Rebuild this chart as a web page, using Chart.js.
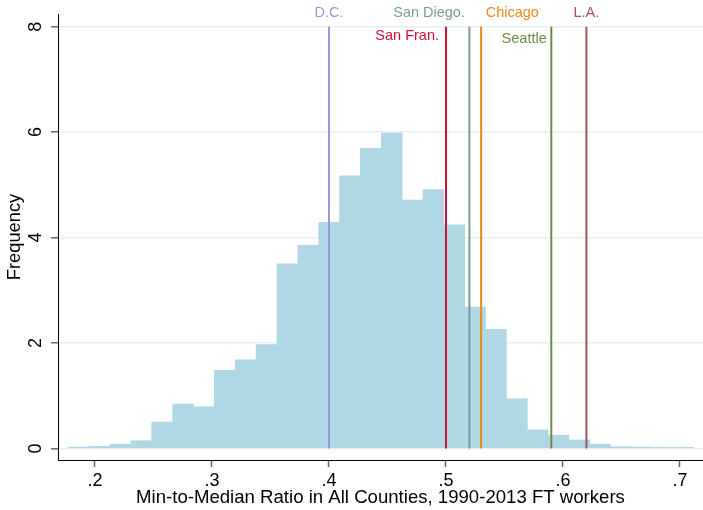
<!DOCTYPE html>
<html>
<head>
<meta charset="utf-8">
<script src="https://cdn.jsdelivr.net/npm/chart.js@4/dist/chart.umd.min.js"></script>
<style>
  html, body { margin: 0; padding: 0; background: #ffffff; }
  #wrap { width: 703px; height: 510px; }
</style>
</head>
<body>
<div id="wrap"><canvas id="hist" width="703" height="510"></canvas></div>
<script>
// Histogram bins: centre of each bin and its density (frequency) value
const binCenters = [
  0.1861, 0.2040, 0.2218, 0.2396, 0.2574, 0.2753, 0.2931, 0.3109, 0.3288, 0.3466,
  0.3644, 0.3823, 0.4001, 0.4179, 0.4357, 0.4536, 0.4714, 0.4892, 0.5071, 0.5249,
  0.5427, 0.5606, 0.5784, 0.5962, 0.6140, 0.6319, 0.6497, 0.6675, 0.6854, 0.7032
];
const frequencies = [
  0.025, 0.04, 0.08, 0.145, 0.50, 0.84, 0.79, 1.48, 1.68, 1.97,
  3.50, 3.85, 4.29, 5.17, 5.69, 5.98, 4.71, 4.91, 4.24, 2.68,
  2.26, 0.94, 0.35, 0.25, 0.16, 0.08, 0.03, 0.025, 0.02, 0.02
];

// City reference lines (min-to-median ratio)
const cityNames  = ['D.C.', 'San Fran.', 'San Diego.', 'Chicago', 'Seattle', 'L.A.'];
const cityRatios = [0.40, 0.50, 0.52, 0.53, 0.59, 0.62];
const cityColors = ['#9d95dc', '#d0103a', '#7b9c92', '#e8891c', '#6b8c45', '#a8525a'];

// Where each city name is written (data coordinates) and how it is aligned
const cityLabelX     = [0.400, 0.494, 0.5162, 0.5339, 0.5861, 0.620];
const cityLabelY     = [8.25, 7.83, 8.25, 8.25, 7.76, 8.25];
const cityLabelAlign = ['center', 'right', 'right', 'left', 'right', 'center'];

// Axis ticks
const xTickValues = [0.2, 0.3, 0.4, 0.5, 0.6, 0.7];
const xTickLabels = ['.2', '.3', '.4', '.5', '.6', '.7'];
const yTickValues = [0, 2, 4, 6, 8];
const yTickLabels = ['0', '2', '4', '6', '8'];

const FONT = '"Liberation Sans", Arial, Helvetica, sans-serif';

const datasets = [{
  type: 'bar',
  label: 'Frequency',
  data: binCenters.map((x, i) => ({ x: x, y: frequencies[i] })),
  backgroundColor: '#afd8e4',
  borderWidth: 0,
  barPercentage: 1.0,
  categoryPercentage: 1.0,
  order: 2
}];
cityNames.forEach((name, i) => {
  datasets.push({
    type: 'line',
    label: name,
    data: [{ x: cityRatios[i], y: 0 }, { x: cityRatios[i], y: 8 }],
    borderColor: cityColors[i],
    borderWidth: 2,
    pointRadius: 0,
    fill: false,
    order: 1
  });
});

// Writes the city names next to their reference lines
const cityLabelPlugin = {
  id: 'cityLabels',
  afterDatasetsDraw(chart) {
    const { ctx, scales } = chart;
    ctx.save();
    ctx.font = '14.5px ' + FONT;
    ctx.textBaseline = 'middle';
    cityNames.forEach((name, i) => {
      ctx.fillStyle = cityColors[i];
      ctx.textAlign = cityLabelAlign[i];
      ctx.fillText(name, scales.x.getPixelForValue(cityLabelX[i]), scales.y.getPixelForValue(cityLabelY[i]));
    });
    ctx.restore();
  }
};

new Chart(document.getElementById('hist'), {
  type: 'bar',
  data: { datasets: datasets },
  plugins: [cityLabelPlugin],
  options: {
    responsive: false,
    animation: false,
    devicePixelRatio: 1,
    layout: { padding: { top: 14, right: 0, bottom: 0, left: 0 } },
    plugins: {
      legend: { display: false },
      tooltip: { enabled: false }
    },
    scales: {
      x: {
        type: 'linear',
        min: 0.16838,
        max: 0.71966,
        offset: false,
        afterBuildTicks: (s) => { s.ticks = xTickValues.map(v => ({ value: v })); },
        afterFit: (s) => { s.height = 50; s.paddingLeft = 0; s.paddingRight = 0; },
        ticks: {
          autoSkip: false,
          maxRotation: 0,
          padding: 3,
          color: '#000000',
          font: { family: FONT, size: 18 },
          callback: (v, i) => xTickLabels[i]
        },
        grid: {
          offset: false,
          drawOnChartArea: false,
          drawTicks: true,
          tickLength: 7,
          tickColor: '#666666',
          tickWidth: 1.5
        },
        border: { color: '#000000', width: 1 },
        title: {
          display: true,
          text: 'Min-to-Median Ratio in All Counties, 1990-2013 FT workers',
          color: '#000000',
          font: { family: FONT, size: 18.6 },
          padding: { top: 0, bottom: 1 }
        }
      },
      y: {
        type: 'linear',
        position: 'left',
        min: -0.22,
        max: 8.24,
        afterBuildTicks: (s) => { s.ticks = yTickValues.map(v => ({ value: v })); },
        afterFit: (s) => { s.width = 58; s.paddingTop = 0; s.paddingBottom = 0; },
        ticks: {
          autoSkip: false,
          minRotation: 90,
          maxRotation: 90,
          crossAlign: 'center',
          padding: 10,
          color: '#000000',
          font: { family: FONT, size: 18 },
          callback: (v, i) => yTickLabels[i]
        },
        grid: {
          color: '#e8eff1',
          lineWidth: 1.5,
          drawTicks: true,
          tickLength: 7,
          tickColor: '#666666',
          tickWidth: 1.5
        },
        border: { color: '#000000', width: 1 },
        title: {
          display: true,
          text: 'Frequency',
          color: '#000000',
          font: { family: FONT, size: 18.3 },
          padding: { top: 4, bottom: 0 }
        }
      }
    }
  }
});
</script>
</body>
</html>
